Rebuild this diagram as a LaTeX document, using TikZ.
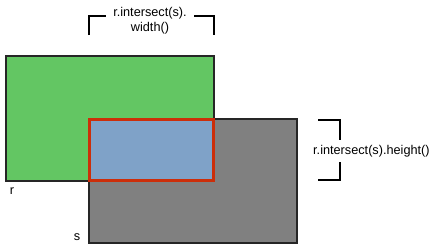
\documentclass[tikz,border=0pt]{standalone}
\usepackage{fontspec}
\setmainfont{Liberation Sans}
\definecolor{rgreen}{HTML}{63C663}
\definecolor{sgray}{HTML}{808080}
\definecolor{iblue}{HTML}{7FA2C8}
\definecolor{ired}{HTML}{CC2E0A}
\begin{document}
\begin{tikzpicture}[x=1pt,y=-1pt,
  box/.style={draw=black!85,line width=1.3pt},
  brk/.style={draw=black,line width=1.1pt},
  lbl/.style={font=\fontsize{12.7}{15.5}\selectfont,inner sep=0pt}]
\useasboundingbox (0,0) rectangle (432,249);
\path[fill=white] (0,0) rectangle (432,249);
% s rectangle
\draw[box,fill=sgray] (89,119) rectangle (297,243);
% r rectangle
\draw[box,fill=rgreen] (6,56) rectangle (214,181);
% intersection
\draw[draw=ired,line width=2.8pt,fill=iblue] (89.5,119.5) rectangle (213.5,180.5);
% labels
\node[lbl] (rl) at (12,191) {r};
\node[lbl] (sl) at (77,237) {s};
% top bracket
\coordinate (t1) at (89,35);
\coordinate (t2) at (89,16);
\coordinate (t3) at (106,16);
\coordinate (t4) at (194,16);
\coordinate (t5) at (214,16);
\coordinate (t6) at (214,35);
\draw[brk] (t1) -- (t2) -- (t3);
\draw[brk] (t4) -- (t5) -- (t6);
\node[lbl,align=center] (tw) at (150,20.5) {r.intersect(s).\\width()};
% right bracket
\coordinate (b1) at (318,120);
\coordinate (b2) at (340,120);
\coordinate (b3) at (340,140);
\coordinate (b4) at (340,162);
\coordinate (b5) at (340,180);
\coordinate (b6) at (318,180);
\draw[brk] (b1) -- (b2) -- (b3);
\draw[brk] (b4) -- (b5) -- (b6);
\node[lbl,anchor=west] (th) at (313,151) {r.intersect(s).height()};
\end{tikzpicture}
\end{document}
